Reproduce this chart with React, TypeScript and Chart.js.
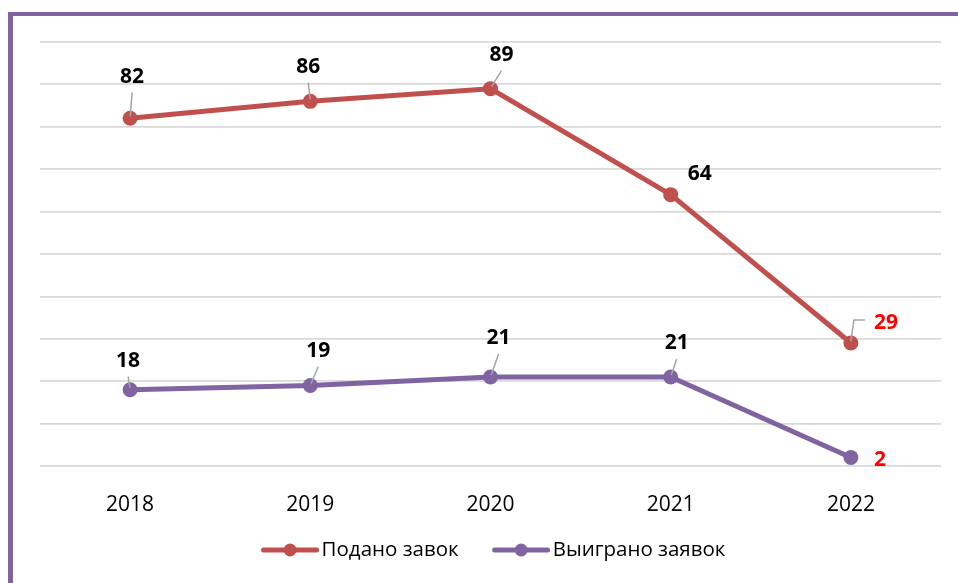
import React, { useEffect, useRef } from "react";
import { Chart, registerables } from "chart.js";

Chart.register(...registerables);

// ---- data ----
const categories = ["2018", "2019", "2020", "2021", "2022"];
const submitted = [82, 86, 89, 64, 29];
const won = [18, 19, 21, 21, 2];
const seriesNames = ["Подано завок", "Выиграно заявок"];
const yMin = 0;
const yMax = 100;
const yStep = 10;

// ---- styles ----
const RED = "#C0504D";
const PURPLE = "#8064A2";
const GRID = "#D9D9D9";
const LEADER = "#A6A6A6";
const FONT = "'Open Sans', 'Noto Sans', sans-serif";

// label placement per series/point: [dx, dy, leader type]
const labelPlacement: [number, number, string][][] = [
  [[2, -43, "line"], [-2, -36, "line"], [11, -35, "line"], [29, -22, "none"], [35, -22, "elbow"]],
  [[-2, -30, "line"], [8, -36, "line"], [8, -40, "line"], [6, -35, "line"], [29, 1, "none"]],
];
const labelColors = [
  ["#000000", "#000000", "#000000", "#000000", "#FF0000"],
  ["#000000", "#000000", "#000000", "#000000", "#FF0000"],
];

const framePlugin = {
  id: "frame",
  beforeDraw(chart: any) {
    const ctx = chart.ctx;
    ctx.save();
    ctx.fillStyle = "#FFFFFF";
    ctx.fillRect(0, 0, chart.width, chart.height);
    ctx.fillStyle = PURPLE;
    ctx.fillRect(8, 12, 5, chart.height - 12);
    ctx.fillRect(8, 12, chart.width - 8, 4);
    ctx.restore();
  },
};

const labelsPlugin = {
  id: "valueLabels",
  afterDatasetsDraw(chart: any) {
    const ctx = chart.ctx;
    ctx.save();
    chart.data.datasets.forEach((ds: any, di: number) => {
      const meta = chart.getDatasetMeta(di);
      meta.data.forEach((pt: any, i: number) => {
        const [dx, dy, leader] = labelPlacement[di][i];
        const lx = pt.x + dx;
        const ly = pt.y + dy;
        ctx.strokeStyle = LEADER;
        ctx.lineWidth = 1.5;
        if (leader === "line") {
          ctx.beginPath();
          ctx.moveTo(lx, ly + 17);
          ctx.lineTo(pt.x + (lx - pt.x) * 0.1, pt.y - 2);
          ctx.stroke();
        } else if (leader === "elbow") {
          ctx.beginPath();
          ctx.moveTo(pt.x, pt.y - 2);
          ctx.lineTo(pt.x + 3, ly - 1);
          ctx.lineTo(lx - 21, ly - 1);
          ctx.stroke();
        }
        ctx.font = `bold 21px ${FONT}`;
        ctx.fillStyle = labelColors[di][i];
        ctx.textAlign = "center";
        ctx.textBaseline = "alphabetic";
        ctx.fillText(String(ds.data[i]), lx, ly + 7.5);
      });
    });
    ctx.restore();
  },
};

const legendPlugin = {
  id: "lineLegend",
  afterDraw(chart: any) {
    const ctx = chart.ctx;
    ctx.save();
    ctx.font = `20.5px ${FONT}`;
    const lineW = 57;
    const textGap = 3;
    const itemGap = 34;
    const items = chart.data.datasets.map((ds: any) => ({
      label: ds.label,
      color: ds.borderColor,
      w: lineW + textGap + ctx.measureText(ds.label).width,
    }));
    const total = items.reduce((s: number, it: any) => s + it.w, 0) + itemGap * (items.length - 1);
    let x = 493.5 - total / 2;
    const y = 550;
    items.forEach((it: any) => {
      ctx.strokeStyle = it.color;
      ctx.lineWidth = 5;
      ctx.lineCap = "round";
      ctx.beginPath();
      ctx.moveTo(x + 2, y);
      ctx.lineTo(x + lineW - 2, y);
      ctx.stroke();
      ctx.fillStyle = it.color;
      ctx.beginPath();
      ctx.arc(x + lineW / 2, y, 6.5, 0, Math.PI * 2);
      ctx.fill();
      ctx.fillStyle = "#000000";
      ctx.textAlign = "left";
      ctx.textBaseline = "middle";
      ctx.fillText(it.label, x + lineW + textGap, y);
      x += it.w + itemGap;
    });
    ctx.restore();
  },
};

export default function App() {
  const ref = useRef<HTMLCanvasElement | null>(null);
  useEffect(() => {
    document.body.style.margin = "0";
    document.body.style.overflow = "hidden";
    if (!ref.current) return;
    const chart = new Chart(ref.current, {
      type: "line",
      data: {
        labels: categories,
        datasets: [
          {
            label: seriesNames[0],
            data: submitted,
            borderColor: RED,
            backgroundColor: RED,
            borderWidth: 5,
            pointRadius: 7.5,
            pointBorderWidth: 0,
            pointBackgroundColor: RED,
            borderJoinStyle: "round",
            borderCapStyle: "round",
            tension: 0,
          },
          {
            label: seriesNames[1],
            data: won,
            borderColor: PURPLE,
            backgroundColor: PURPLE,
            borderWidth: 5,
            pointRadius: 7.5,
            pointBorderWidth: 0,
            pointBackgroundColor: PURPLE,
            borderJoinStyle: "round",
            borderCapStyle: "round",
            tension: 0,
          },
        ],
      },
      options: {
        responsive: false,
        animation: false,
        layout: { padding: { left: 40, right: 17, top: 42, bottom: 0 }, autoPadding: false },
        plugins: { legend: { display: false }, tooltip: { enabled: false } },
        scales: {
          x: {
            offset: true,
            grid: { display: false },
            border: { display: false },
            ticks: { color: "#000000", font: { family: FONT, size: 21 }, padding: 18 },
            afterFit(scale: any) {
              scale.height = 117;
            },
          },
          y: {
            min: yMin,
            max: yMax,
            ticks: { display: false, stepSize: yStep },
            grid: { color: GRID, lineWidth: 1.8, drawTicks: false },
            border: { display: false },
            afterFit(scale: any) {
              scale.width = 0;
            },
          },
        },
      },
      plugins: [framePlugin, labelsPlugin, legendPlugin],
    });
    return () => chart.destroy();
  }, []);
  return (
    <div style={{ width: 958, height: 583 }}>
      <canvas ref={ref} width={958} height={583} />
    </div>
  );
}
